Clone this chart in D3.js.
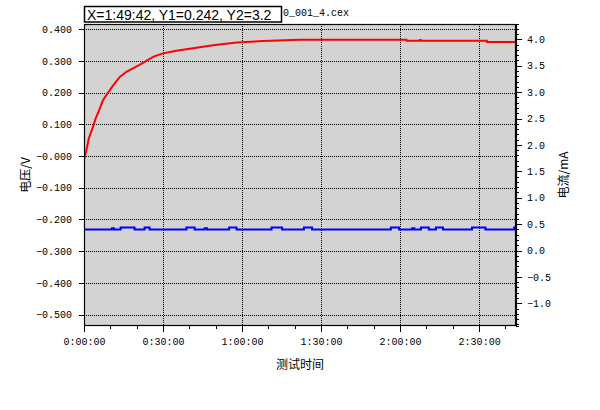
<!DOCTYPE html>
<html>
<head>
<meta charset="utf-8">
<script src="https://cdn.jsdelivr.net/npm/d3@7"></script>
<style>
  body { margin: 0; background: #fff; }
  .tick text { font-family: "Liberation Mono", "DejaVu Sans Mono", monospace; font-size: 10px; fill: #000; }
</style>
</head>
<body>
<svg id="chart"></svg>
<script>
// time in minutes, voltage in V, current in mA
const voltTime = [0, 0.9, 1.8, 3.4, 4.4, 6.0, 7.2, 9.1, 11.0, 13.6, 16.1, 19.3, 22.4, 26.2, 30.0, 35.1, 41.4, 49.0, 57.9, 68.0, 82.0, 122.4, 122.5, 127.3, 127.4, 127.9, 128.0, 152.9, 153.0, 164.0];
const voltVal = [-0.011, 0.018, 0.055, 0.092, 0.118, 0.150, 0.176, 0.200, 0.222, 0.250, 0.266, 0.280, 0.294, 0.313, 0.324, 0.332, 0.340, 0.350, 0.358, 0.363, 0.367, 0.367, 0.364, 0.364, 0.366, 0.366, 0.364, 0.364, 0.360, 0.360];

const currTime = [0, 0, 10.6, 11.4, 13.9, 19.2, 23.0, 24.9, 38.9, 42.0, 45.8, 46.7, 55.1, 57.9, 71.2, 75.2, 83.5, 86.6, 116.5, 119.6, 124.6, 125.4, 127.9, 130.9, 133.6, 136.3, 147.3, 152.4, 163.3, 164.0];
const currVal = [-0.42, 0.40, 0.42, 0.40, 0.435, 0.40, 0.435, 0.40, 0.435, 0.40, 0.42, 0.40, 0.435, 0.40, 0.435, 0.40, 0.435, 0.40, 0.435, 0.40, 0.42, 0.40, 0.435, 0.40, 0.435, 0.40, 0.435, 0.40, 0.435, 0.435];

const timeTicks = [0, 30, 60, 90, 120, 150];
const timeLabels = ["0:00:00", "0:30:00", "1:00:00", "1:30:00", "2:00:00", "2:30:00"];
const voltTicks = [0.4, 0.3, 0.2, 0.1, 0, -0.1, -0.2, -0.3, -0.4, -0.5];
const voltLabels = ["0.400", "0.300", "0.200", "0.100", "−0.000", "−0.100", "−0.200", "−0.300", "−0.400", "−0.500"];
const currTicks = [4.0, 3.5, 3.0, 2.5, 2.0, 1.5, 1.0, 0.5, 0.0, -0.5, -1.0];
const currLabels = ["4.0", "3.5", "3.0", "2.5", "2.0", "1.5", "1.0", "0.5", "0.0", "−0.5", "−1.0"];

const W = 600, H = 410;
const plot = { left: 84, right: 516, top: 24, bottom: 326 };

const svg = d3.select("#chart").attr("width", W).attr("height", H);

const x = d3.scaleLinear().domain([0, 164]).range([plot.left, plot.right]);
const yL = d3.scaleLinear().domain([-0.536, 0.4167]).range([plot.bottom, plot.top]);
const yR = d3.scaleLinear().domain([-1.43, 4.29]).range([plot.bottom, plot.top]);

// background
svg.append("rect")
  .attr("x", plot.left).attr("y", plot.top)
  .attr("width", plot.right - plot.left).attr("height", plot.bottom - plot.top)
  .attr("fill", "#d3d3d3");

// grid
const grid = svg.append("g").attr("stroke", "#000").attr("stroke-dasharray", "1,1").attr("shape-rendering", "crispEdges");
voltTicks.forEach(v => {
  grid.append("line").attr("x1", plot.left).attr("x2", plot.right)
    .attr("y1", Math.round(yL(v)) + 0.5).attr("y2", Math.round(yL(v)) + 0.5);
});
timeTicks.slice(1).forEach(t => {
  grid.append("line").attr("y1", plot.top).attr("y2", plot.bottom)
    .attr("x1", Math.round(x(t)) + 0.5).attr("x2", Math.round(x(t)) + 0.5);
});

// series
svg.append("clipPath").attr("id", "clip").append("rect")
  .attr("x", plot.left).attr("y", plot.top)
  .attr("width", plot.right - plot.left).attr("height", plot.bottom - plot.top);

const currLine = d3.line()
  .x((d, i) => x(currTime[i]))
  .y(d => yR(d))
  .curve(d3.curveStepAfter);
svg.append("path")
  .datum(currVal)
  .attr("clip-path", "url(#clip)")
  .attr("fill", "none").attr("stroke", "#0000ff").attr("stroke-width", 2)
  .attr("d", currLine);

const voltLine = d3.line()
  .x((d, i) => x(voltTime[i]))
  .y(d => yL(d));
svg.append("path")
  .datum(voltVal)
  .attr("clip-path", "url(#clip)")
  .attr("fill", "none").attr("stroke", "#ff0000").attr("stroke-width", 2)
  .attr("d", voltLine);

// border
svg.append("rect")
  .attr("x", plot.left + 0.5).attr("y", plot.top + 0.5)
  .attr("width", plot.right - plot.left - 1).attr("height", plot.bottom - plot.top - 1)
  .attr("fill", "none").attr("stroke", "#000").attr("stroke-width", 1.2);

// axes
const axL = svg.append("g").attr("transform", `translate(${plot.left},0)`)
  .call(d3.axisLeft(yL).tickValues(voltTicks).tickSize(5).tickPadding(7).tickSizeOuter(0)
    .tickFormat((d, i) => voltLabels[i]));
axL.select(".domain").remove();

const axR = svg.append("g").attr("transform", `translate(${plot.right},0)`)
  .call(d3.axisRight(yR).tickValues(d3.range(-14, 43).map(v => v / 10)).tickSize(3).tickFormat(""));
axR.select(".domain").attr("stroke-width", 1.2);
svg.append("g").attr("transform", `translate(${plot.right},0)`)
  .call(d3.axisRight(yR).tickValues(currTicks).tickSize(6).tickPadding(5).tickSizeOuter(0)
    .tickFormat((d, i) => currLabels[i]))
  .select(".domain").remove();

const axBminor = svg.append("g").attr("transform", `translate(0,${plot.bottom})`)
  .call(d3.axisBottom(x).tickValues(d3.range(0, 170, 10)).tickSize(3).tickSizeOuter(0).tickFormat(""));
axBminor.select(".domain").remove();
const axB = svg.append("g").attr("transform", `translate(0,${plot.bottom})`)
  .call(d3.axisBottom(x).tickValues(timeTicks).tickSize(6).tickPadding(6).tickSizeOuter(0)
    .tickFormat((d, i) => timeLabels[i]));
axB.select(".domain").remove();

svg.selectAll(".tick line").attr("shape-rendering", "crispEdges");

// axis titles
const cjk = '"Noto Sans CJK SC", sans-serif';
svg.append("text")
  .attr("transform", `translate(30,${(plot.top + plot.bottom) / 2}) rotate(-90)`)
  .attr("text-anchor", "middle").attr("font-family", cjk).attr("font-size", 12)
  .text("电压/V");
svg.append("text")
  .attr("transform", `translate(568,${(plot.top + plot.bottom) / 2}) rotate(-90)`)
  .attr("text-anchor", "middle").attr("font-family", cjk).attr("font-size", 12)
  .text("电流/mA");
svg.append("text")
  .attr("x", (plot.left + plot.right) / 2).attr("y", 369)
  .attr("text-anchor", "middle").attr("font-family", cjk).attr("font-size", 12)
  .text("测试时间");

// title with cursor readout box
svg.append("text")
  .attr("x", 283).attr("y", 16)
  .attr("font-family", '"Liberation Mono", monospace').attr("font-size", 10)
  .text("0_001_4.cex");
svg.append("rect")
  .attr("x", 84.5).attr("y", 6.5).attr("width", 197).attr("height", 15.5)
  .attr("fill", "#fff").attr("stroke", "#000").attr("stroke-width", 1.5);
svg.append("text")
  .attr("x", 87).attr("y", 19.5)
  .attr("font-family", '"Liberation Sans", Arial, sans-serif').attr("font-size", 14)
  .text("X=1:49:42, Y1=0.242, Y2=3.2");
</script>
</body>
</html>
